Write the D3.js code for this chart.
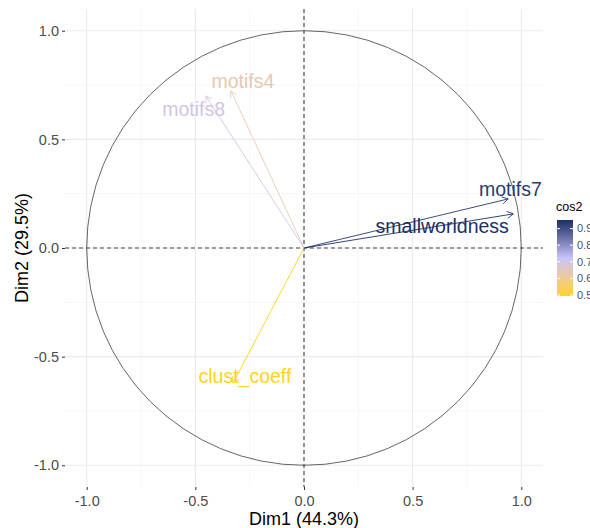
<!DOCTYPE html>
<html>
<head>
<meta charset="utf-8">
<script src="https://cdn.jsdelivr.net/npm/d3@7"></script>
<style>
  body { margin: 0; background: #fff; }
  text { font-family: "Liberation Sans", Arial, sans-serif; }
</style>
</head>
<body>
<div id="chart"></div>
<script>
// variable coordinates on Dim1 / Dim2
var vars = ["motifs7", "smallworldness", "motifs4", "motifs8", "clust_coeff"];
var dim1 = [0.940, 0.963, -0.336, -0.452, -0.327];
var dim2 = [0.226, 0.157, 0.723, 0.700, -0.622];
// label positions (repelled), data units
var labX = [0.950, 0.636, -0.281, -0.508, -0.272];
var labY = [0.272, 0.102, 0.766, 0.637, -0.588];
var ticks = [-1.0, -0.5, 0.0, 0.5, 1.0];
var minorTicks = [-0.75, -0.25, 0.25, 0.75];
var legendTicks = [0.5, 0.6, 0.7, 0.8, 0.9];

var width = 590, height = 528;
var margin = {left: 65, right: 47, top: 9, bottom: 41};

var x = d3.scaleLinear().domain([-1.1, 1.1]).range([margin.left, width - margin.right]);
var y = d3.scaleLinear().domain([-1.1, 1.1]).range([height - margin.bottom, margin.top]);

var data = vars.map(function(v, i) {
    return {name: v, x: dim1[i], y: dim2[i], lx: labX[i], ly: labY[i],
            cos2: dim1[i] * dim1[i] + dim2[i] * dim2[i]};
});

var cmin = d3.min(data, function(d) { return d.cos2; });
var cmax = d3.max(data, function(d) { return d.cos2; });
var cmid = (cmin + cmax) / 2;
var color = d3.scaleLinear()
    .domain([cmin, cmid, cmax])
    .range(["#FFD21A", "#C6C4FA", "#1B3066"])
    .interpolate(d3.interpolateLab);

var svg = d3.select("#chart").append("svg")
    .attr("width", width)
    .attr("height", height);

// grid
var grid = svg.append("g");
grid.selectAll(".minx").data(minorTicks).enter().append("line")
    .attr("x1", function(d) { return x(d); }).attr("x2", function(d) { return x(d); })
    .attr("y1", y.range()[1]).attr("y2", y.range()[0])
    .attr("stroke", "#F0F0F0").attr("stroke-width", 0.6);
grid.selectAll(".miny").data(minorTicks).enter().append("line")
    .attr("y1", function(d) { return y(d); }).attr("y2", function(d) { return y(d); })
    .attr("x1", x.range()[0]).attr("x2", x.range()[1])
    .attr("stroke", "#F0F0F0").attr("stroke-width", 0.6);
grid.selectAll(".majx").data(ticks).enter().append("line")
    .attr("x1", function(d) { return x(d); }).attr("x2", function(d) { return x(d); })
    .attr("y1", y.range()[1]).attr("y2", y.range()[0])
    .attr("stroke", "#EBEBEB").attr("stroke-width", 1.1);
grid.selectAll(".majy").data(ticks).enter().append("line")
    .attr("y1", function(d) { return y(d); }).attr("y2", function(d) { return y(d); })
    .attr("x1", x.range()[0]).attr("x2", x.range()[1])
    .attr("stroke", "#EBEBEB").attr("stroke-width", 1.1);

// axes
var xAxis = d3.axisBottom(x).tickValues(ticks).tickSize(3).tickPadding(3)
    .tickFormat(function(d) { return d.toFixed(1).replace("\u2212", "-"); });
var yAxis = d3.axisLeft(y).tickValues(ticks).tickSize(3).tickPadding(3)
    .tickFormat(function(d) { return d.toFixed(1).replace("\u2212", "-"); });

svg.append("g")
    .attr("transform", "translate(0," + (height - margin.bottom) + ")")
    .call(xAxis)
    .call(function(g) {
        g.select(".domain").remove();
        g.selectAll("line").attr("stroke", "#333");
        g.selectAll("text").attr("fill", "#4D4D4D").style("font-size", "14.5px").attr("dy", "0.9em");
    });
svg.append("g")
    .attr("transform", "translate(" + margin.left + ",0)")
    .call(yAxis)
    .call(function(g) {
        g.select(".domain").remove();
        g.selectAll("line").attr("stroke", "#333");
        g.selectAll("text").attr("fill", "#4D4D4D").style("font-size", "14.5px");
    });

svg.append("text")
    .attr("x", x(0)).attr("y", 525)
    .attr("text-anchor", "middle")
    .style("font-size", "18px")
    .text("Dim1 (44.3%)");
svg.append("text")
    .attr("transform", "translate(28," + y(0) + ") rotate(-90)")
    .attr("text-anchor", "middle")
    .style("font-size", "18px")
    .text("Dim2 (29.5%)");

// unit circle
svg.append("circle")
    .attr("cx", x(0)).attr("cy", y(0))
    .attr("r", x(1) - x(0))
    .attr("fill", "none")
    .attr("stroke", "#222")
    .attr("stroke-width", 0.7);

// dashed reference lines
svg.append("line")
    .attr("x1", x(0)).attr("x2", x(0))
    .attr("y1", y.range()[1]).attr("y2", y.range()[0])
    .attr("stroke", "#444").attr("stroke-width", 1.1).attr("stroke-dasharray", "4,3");
svg.append("line")
    .attr("y1", y(0)).attr("y2", y(0))
    .attr("x1", x.range()[0]).attr("x2", x.range()[1])
    .attr("stroke", "#444").attr("stroke-width", 1.1).attr("stroke-dasharray", "4,3");

// arrows
var headLen = 7, headAng = Math.PI / 6;
function arrowPath(d) {
    var x0 = x(0), y0 = y(0), x1 = x(d.x), y1 = y(d.y);
    var a = Math.atan2(y1 - y0, x1 - x0);
    var p = "M" + x0 + "," + y0 + "L" + x1 + "," + y1;
    p += "M" + (x1 - headLen * Math.cos(a - headAng)) + "," + (y1 - headLen * Math.sin(a - headAng));
    p += "L" + x1 + "," + y1;
    p += "L" + (x1 - headLen * Math.cos(a + headAng)) + "," + (y1 - headLen * Math.sin(a + headAng));
    return p;
}
svg.selectAll(".arrow").data(data).enter().append("path")
    .attr("class", "arrow")
    .attr("d", arrowPath)
    .attr("fill", "none")
    .attr("stroke", function(d) { return color(d.cos2); })
    .attr("stroke-width", 0.9);

svg.selectAll(".lab").data(data).enter().append("text")
    .attr("class", "lab")
    .attr("x", function(d) { return x(d.lx); })
    .attr("y", function(d) { return y(d.ly); })
    .attr("dy", "0.35em")
    .attr("text-anchor", "middle")
    .attr("fill", function(d) { return color(d.cos2); })
    .style("font-size", "19.5px")
    .text(function(d) { return d.name; });

// colour bar legend
var lg = svg.append("g");
var barTop = 220, barBot = 296, barX = 557, barW = 16;
var ly = d3.scaleLinear().domain([cmin, cmax]).range([barBot, barTop]);
var defs = svg.append("defs");
var grad = defs.append("linearGradient").attr("id", "cgrad")
    .attr("x1", 0).attr("y1", 1).attr("x2", 0).attr("y2", 0);
d3.range(0, 1.0001, 0.05).forEach(function(t) {
    grad.append("stop").attr("offset", t).attr("stop-color", color(cmin + t * (cmax - cmin)));
});
lg.append("rect")
    .attr("x", barX).attr("y", barTop).attr("width", barW).attr("height", barBot - barTop)
    .attr("fill", "url(#cgrad)");
lg.selectAll(".tl").data(legendTicks).enter().append("line")
    .attr("x1", barX).attr("x2", barX + 3)
    .attr("y1", function(d) { return ly(d); }).attr("y2", function(d) { return ly(d); })
    .attr("stroke", "#fff").attr("stroke-width", 1);
lg.selectAll(".tr").data(legendTicks).enter().append("line")
    .attr("x1", barX + barW - 3).attr("x2", barX + barW)
    .attr("y1", function(d) { return ly(d); }).attr("y2", function(d) { return ly(d); })
    .attr("stroke", "#fff").attr("stroke-width", 1);
lg.selectAll(".tt").data(legendTicks).enter().append("text")
    .attr("x", barX + barW + 4)
    .attr("y", function(d) { return ly(d); })
    .attr("dy", "0.35em")
    .attr("fill", "#4D4D4D")
    .style("font-size", "11px")
    .text(function(d) { return d.toFixed(1); });
lg.append("text")
    .attr("x", barX - 1).attr("y", 211)
    .style("font-size", "12.5px")
    .text("cos2");
</script>
</body>
</html>
